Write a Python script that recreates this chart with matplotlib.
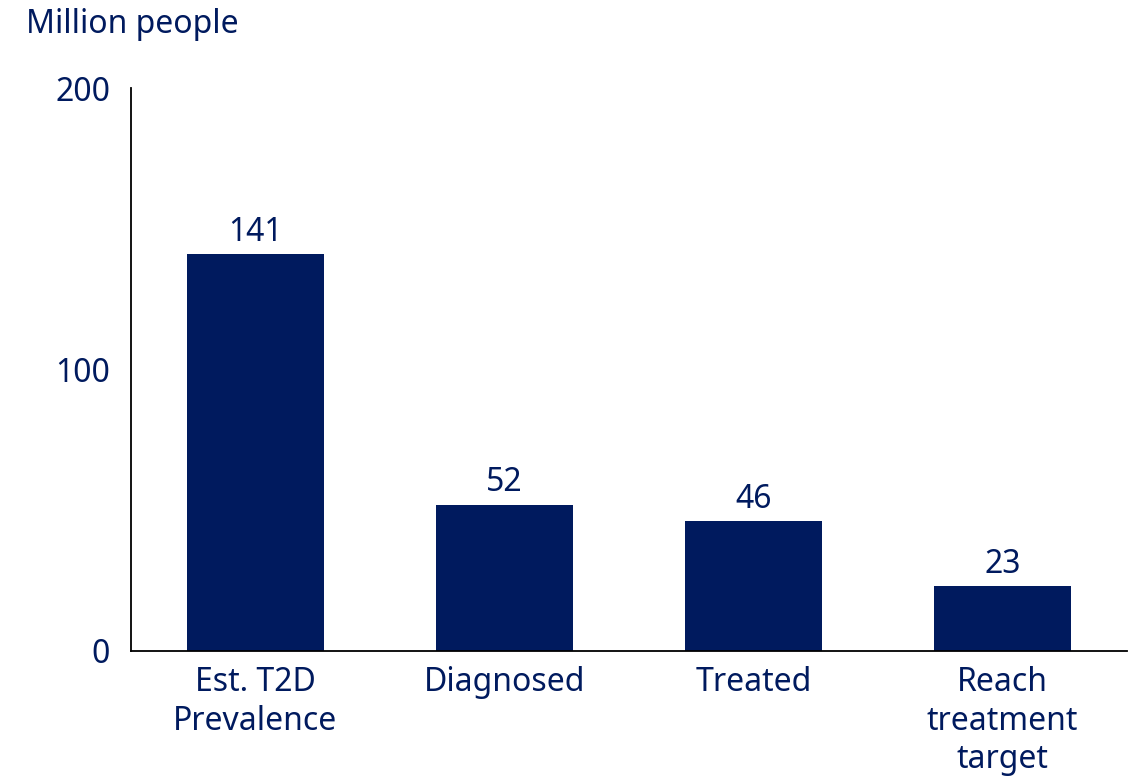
import matplotlib.pyplot as plt

# data
categories = ["Est. T2D\nPrevalence", "Diagnosed", "Treated", "Reach\ntreatment\ntarget"]
values = [141, 52, 46, 23]
y_ticks = [0, 100, 200]

navy = "#001A5E"
plt.rcParams['font.family'] = ['Noto Sans', 'DejaVu Sans']

fig = plt.figure(figsize=(11.35, 7.77), dpi=100)
ax = fig.add_axes([0.1154, 0.1622, 0.8776, 0.7245])

x = list(range(len(categories)))
bars = ax.bar(x, values, width=0.55, color=navy)
ax.bar_label(bars, labels=[str(v) for v in values], padding=4,
             fontsize=23, color=navy)

ax.set_xlim(-0.5, 3.5)
ax.set_ylim(0, 200)
ax.set_yticks(y_ticks)
ax.set_xticks(x)
ax.set_xticklabels(categories, linespacing=1.22)
ax.tick_params(axis='both', length=0, labelsize=23, labelcolor=navy)
ax.tick_params(axis='y', pad=15)
ax.tick_params(axis='x', pad=11)

for side in ['top', 'right']:
    ax.spines[side].set_visible(False)
for side in ['left', 'bottom']:
    ax.spines[side].set_linewidth(1.3)
    ax.spines[side].set_color('black')

fig.text(0.023, 0.958, "Million people", fontsize=23, color=navy,
         ha='left', va='baseline')

fig.savefig("out.png", dpi=100)
